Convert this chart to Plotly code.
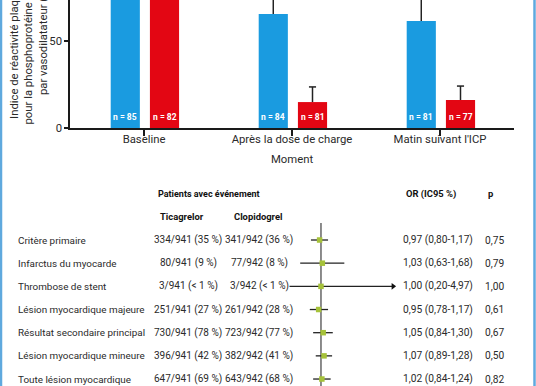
import plotly.graph_objects as go

W, H = 536, 386
FONT = "Roboto, Liberation Sans, sans-serif"
TXT = "#2a2a2a"

# ---- bar chart data ----
moments = ["Baseline", "Après la dose de charge", "Matin suivant l'ICP"]
tica_vals = [81.0, 65.5, 61.5]
tica_err = [11.0, 15.0, 16.0]
clopi_vals = [80.0, 14.9, 16.1]
clopi_err = [10.0, 8.7, 8.0]
n_tica = [85, 84, 81]
n_clopi = [82, 81, 77]

# ---- forest plot data ----
outcomes = ["Critère primaire", "Infarctus du myocarde", "Thrombose de stent",
            "Lésion myocardique majeure", "Résultat secondaire principal",
            "Lésion myocardique mineure", "Toute lésion myocardique"]
tica_txt = ["334/941 (35 %)", "80/941 (9 %)", "3/941 (< 1 %)", "251/941 (27 %)",
            "730/941 (78 %)", "396/941 (42 %)", "647/941 (69 %)"]
clopi_txt = ["341/942 (36 %)", "77/942 (8 %)", "3/942 (< 1 %)", "261/942 (28 %)",
             "723/942 (77 %)", "382/942 (41 %)", "643/942 (68 %)"]
or_val = [0.97, 1.03, 1.00, 0.95, 1.05, 1.07, 1.02]
ci_lo = [0.80, 0.63, 0.20, 0.78, 0.84, 0.89, 0.84]
ci_hi = [1.17, 1.68, 4.97, 1.17, 1.30, 1.28, 1.24]
or_txt = ["0,97 (0,80-1,17)", "1,03 (0,63-1,68)", "1,00 (0,20-4,97)", "0,95 (0,78-1,17)",
          "1,05 (0,84-1,30)", "1,07 (0,89-1,28)", "1,02 (0,84-1,24)"]
p_txt = ["0,75", "0,79", "1,00", "0,61", "0,67", "0,50", "0,82"]
arrow_rows = [2]

BLUE = "#1a9be0"
RED = "#e30613"
GREEN = "#a6c23a"


def px(x):
    return x / W


def py(y):
    return 1 - y / H


fig = go.Figure()

BW = 0.197
OFF_T, OFF_C = -0.225, 0.04
CAP = 0.024
xi = list(range(len(moments)))

fig.add_trace(go.Bar(x=xi, y=tica_vals, width=BW, offset=OFF_T, marker_color=BLUE,
                     marker_line_width=0, xaxis="x", yaxis="y", showlegend=False))
fig.add_trace(go.Bar(x=xi, y=clopi_vals, width=BW, offset=OFF_C, marker_color=RED,
                     marker_line_width=0, xaxis="x", yaxis="y", showlegend=False))

# upper-only error bars
ex, ey = [], []
for vals, errs, off in ((tica_vals, tica_err, OFF_T), (clopi_vals, clopi_err, OFF_C)):
    for i in xi:
        c = i + off + BW / 2
        top = vals[i] + errs[i]
        ex += [c, c, None, c - CAP, c + CAP, None]
        ey += [vals[i], top, None, top, top, None]
fig.add_trace(go.Scatter(x=ex, y=ey, mode="lines", line=dict(color="#222", width=1.5),
                         xaxis="x", yaxis="y", showlegend=False, hoverinfo="skip"))

ann = []
nfont = dict(family=FONT, size=8.5, color="white", weight="bold")
for i in xi:
    ann.append(dict(x=i + OFF_T + BW / 2, y=6.3, xref="x", yref="y", text="n = %d" % n_tica[i],
                    xanchor="center", yanchor="middle", showarrow=False, font=nfont))
    ann.append(dict(x=i + OFF_C + BW / 2, y=6.3, xref="x", yref="y", text="n = %d" % n_clopi[i],
                    xanchor="center", yanchor="middle", showarrow=False, font=nfont))

# y-axis title (cropped at top like the reference)
ann.append(dict(x=px(28.5), y=py(41), xref="paper", yref="paper", textangle=-90,
                xanchor="center", yanchor="middle",
                text="Indice de réactivité plaquettaire<br>pour la phosphoprotéine stimulée<br>par vasodilatateur (%)",
                showarrow=False, font=dict(family=FONT, size=11.3, color=TXT)))
ann.append(dict(x=px(292), y=py(160), xref="paper", yref="paper", text="Moment",
                xanchor="center", yanchor="middle",
                showarrow=False, font=dict(family=FONT, size=11.3, color=TXT)))

# ---- forest plot ----
rows = list(range(len(outcomes)))
lx, ly = [], []
for r in rows:
    lx += [ci_lo[r], ci_hi[r], None]
    ly += [r, r, None]
fig.add_trace(go.Scatter(x=lx, y=ly, mode="lines", line=dict(color="#222", width=1.3),
                         xaxis="x2", yaxis="y2", showlegend=False, hoverinfo="skip"))
fig.add_trace(go.Scatter(x=[ci_hi[r] for r in arrow_rows], y=arrow_rows, mode="markers",
                         marker=dict(symbol="triangle-right", size=6, color="#111"),
                         xaxis="x2", yaxis="y2", showlegend=False, cliponaxis=False))
fig.add_trace(go.Scatter(x=or_val, y=rows, mode="markers",
                         marker=dict(symbol="square", size=5.5, color=GREEN, line_width=0),
                         xaxis="x2", yaxis="y2", showlegend=False))

lfont = dict(family=FONT, size=9.9, color=TXT)
bfont = dict(family=FONT, size=10, color=TXT)
ofont = dict(family=FONT, size=10.2, color=TXT)
for r in rows:
    ann.append(dict(x=px(16), y=r, xref="paper", yref="y2", text=outcomes[r], xanchor="left",
                    yanchor="middle", showarrow=False, font=lfont))
    ann.append(dict(x=px(188), y=r, xref="paper", yref="y2", text=tica_txt[r], xanchor="center",
                    yanchor="middle", showarrow=False, font=bfont))
    ann.append(dict(x=px(259), y=r, xref="paper", yref="y2", text=clopi_txt[r], xanchor="center",
                    yanchor="middle", showarrow=False, font=bfont, bgcolor="white", borderpad=0))
    ann.append(dict(x=px(401), y=r, xref="paper", yref="y2", text=or_txt[r], xanchor="left",
                    yanchor="middle", showarrow=False, font=ofont))
    ann.append(dict(x=px(483), y=r, xref="paper", yref="y2", text=p_txt[r], xanchor="left",
                    yanchor="middle", showarrow=False, font=ofont))

hdr = dict(family=FONT, size=9.4, color="#111", weight="bold")
ann.append(dict(x=px(209), y=py(194), xref="paper", yref="paper", text="Patients avec événement",
                xanchor="center", yanchor="middle", showarrow=False,
                font=dict(family=FONT, size=9.0, color="#111", weight="bold")))
ann.append(dict(x=px(182), y=py(216), xref="paper", yref="paper", text="Ticagrelor",
                xanchor="center", yanchor="middle", showarrow=False, font=hdr))
ann.append(dict(x=px(258), y=py(216), xref="paper", yref="paper", text="Clopidogrel",
                xanchor="center", yanchor="middle", showarrow=False, font=hdr))
ann.append(dict(x=px(404), y=py(194), xref="paper", yref="paper", text="OR (IC95 %)",
                xanchor="left", yanchor="middle", showarrow=False, font=hdr))
ann.append(dict(x=px(490), y=py(193), xref="paper", yref="paper", text="p",
                xanchor="center", yanchor="middle", showarrow=False, font=hdr))

shapes = [
    dict(type="line", xref="x2", yref="y2 domain", x0=1, x1=1, y0=0, y1=1,
         line=dict(color="#666", width=1.5), layer="below"),
    dict(type="line", xref="paper", yref="paper", x0=px(1), x1=px(1), y0=0, y1=1,
         line=dict(color="#5fa9de", width=2.5)),
    dict(type="line", xref="paper", yref="paper", x0=px(534.5), x1=px(534.5), y0=0, y1=1,
         line=dict(color="#5fa9de", width=2.5)),
]

fig.update_layout(
    width=W, height=H, margin=dict(l=0, r=0, t=0, b=0),
    paper_bgcolor="white", plot_bgcolor="white", barmode="overlay",
    font=dict(family=FONT, color=TXT),
    annotations=ann, shapes=shapes,
    xaxis=dict(domain=[px(70), px(514)], range=[-0.5, 2.5], tickmode="array",
               tickvals=xi, ticktext=moments, tickson="boundaries", ticks="outside",
               ticklen=6, tickwidth=1.5, tickcolor="#1a1a1a", showline=True, linewidth=1.5,
               linecolor="#1a1a1a", showgrid=False, zeroline=False, ticklabelstandoff=-6,
               tickfont=dict(family=FONT, size=11.3, color=TXT), automargin=False,
               fixedrange=True),
    yaxis=dict(domain=[py(128), 1], range=[0, 73.56], tickvals=[0, 50, 100],
               ticks="outside", ticklen=4, tickwidth=1.5, tickcolor="#1a1a1a",
               showline=True, linewidth=1.5, linecolor="#1a1a1a", showgrid=False,
               zeroline=False, tickfont=dict(family=FONT, size=11.3, color=TXT),
               automargin=False, fixedrange=True),
    xaxis2=dict(domain=[px(272), px(400)], type="log", range=[-0.473, 0.763],
                visible=False, anchor="y2", fixedrange=True),
    yaxis2=dict(domain=[0, py(223)], range=[6.301, -0.734], visible=False, anchor="x2",
                fixedrange=True),
)

fig.write_html("out.html", config={"displayModeBar": False},
               post_script="document.body.style.margin='0px';")
